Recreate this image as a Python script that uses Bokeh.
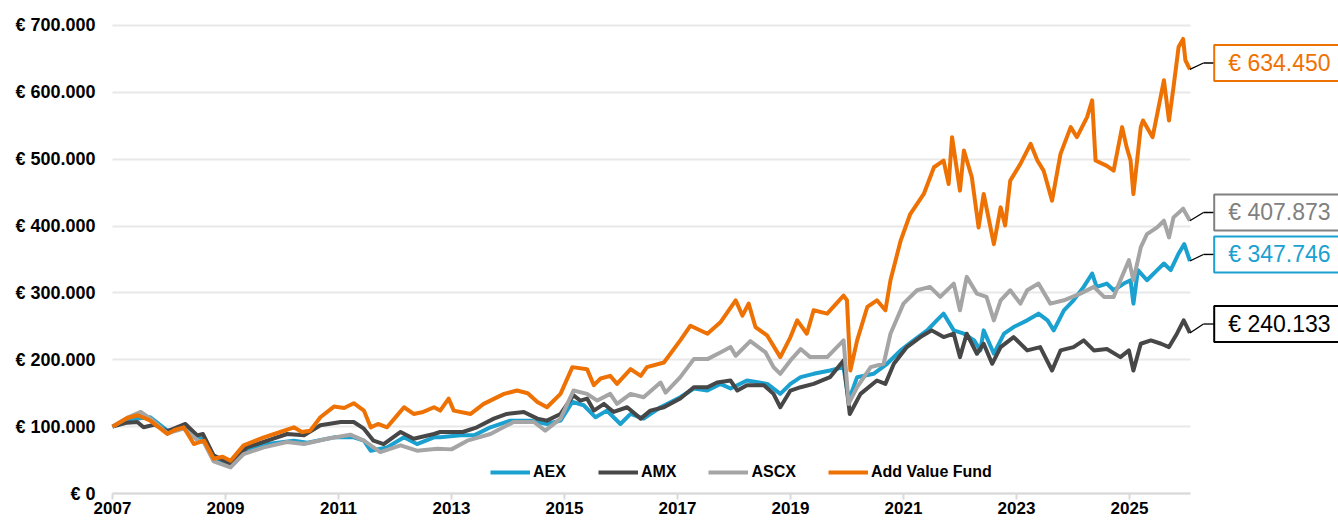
from bokeh.plotting import figure
from bokeh.models import Range1d, FixedTicker, Label, Arrow
from bokeh.embed import file_html
from bokeh.resources import INLINE

# ---------------- data (values in thousands of euro) ----------------
series_names = ["AEX", "AMX", "ASCX", "Add Value Fund"]

t_aex = [2007.0, 2007.26, 2007.45, 2007.67, 2007.97, 2008.26, 2008.5, 2008.62, 2008.79, 2009.09,
         2009.38, 2009.74, 2010.21, 2010.45, 2010.92, 2011.27, 2011.45, 2011.57, 2011.86, 2012.16,
         2012.39, 2012.69, 2012.8, 2013.16, 2013.4, 2013.69, 2014.04, 2014.4, 2014.69, 2014.93,
         2015.14, 2015.34, 2015.55, 2015.75, 2015.99, 2016.17, 2016.4, 2016.7, 2017.05, 2017.29,
         2017.53, 2017.76, 2017.94, 2018.23, 2018.59, 2018.82, 2019.0, 2019.18, 2019.41, 2019.7,
         2019.94, 2020.03, 2020.18, 2020.47, 2020.71, 2020.95, 2021.18, 2021.42, 2021.59, 2021.71,
         2021.89, 2022.07, 2022.25, 2022.36, 2022.42, 2022.6, 2022.78, 2022.95, 2023.19, 2023.39,
         2023.55, 2023.66, 2023.84, 2024.01, 2024.19, 2024.34, 2024.42, 2024.6, 2024.72, 2024.9,
         2025.02, 2025.07, 2025.15, 2025.31, 2025.49, 2025.61, 2025.73, 2025.87, 2025.97, 2026.07]
v_aex = [100, 111, 112, 114, 94, 99, 84, 80, 54, 44,
         64, 74, 79, 76, 84, 84, 79, 64, 69, 84,
         74, 84, 84, 87, 87, 99, 109, 109, 104, 109,
         137, 132, 114, 124, 104, 119, 112, 129, 144, 157,
         154, 164, 157, 169, 164, 149, 164, 174, 179, 184,
         189, 139, 174, 179, 194, 214, 229, 244, 259, 269,
         244, 239, 229, 214, 244, 209, 239, 249, 259, 269,
         259, 244, 274, 289, 309, 329, 309, 314, 304, 314,
         319, 284, 334, 319, 334, 344, 334, 359, 373, 347.746]

t_amx = [2007.0, 2007.26, 2007.44, 2007.55, 2007.75, 2007.97, 2008.29, 2008.5, 2008.6, 2008.79,
         2009.09, 2009.38, 2009.74, 2010.09, 2010.39, 2010.68, 2011.04, 2011.27, 2011.45, 2011.62,
         2011.8, 2012.1, 2012.33, 2012.69, 2012.8, 2013.2, 2013.45, 2013.75, 2013.98, 2014.28,
         2014.52, 2014.69, 2014.93, 2015.16, 2015.28, 2015.4, 2015.52, 2015.7, 2015.87, 2016.11,
         2016.35, 2016.52, 2016.76, 2017.05, 2017.29, 2017.53, 2017.7, 2017.94, 2018.06, 2018.23,
         2018.53, 2018.7, 2018.82, 2019.0, 2019.18, 2019.41, 2019.7, 2019.94, 2020.05, 2020.24,
         2020.53, 2020.68, 2020.83, 2021.06, 2021.3, 2021.5, 2021.71, 2021.89, 2022.0, 2022.12,
         2022.3, 2022.42, 2022.57, 2022.72, 2022.95, 2023.19, 2023.42, 2023.63, 2023.78, 2024.01,
         2024.19, 2024.37, 2024.6, 2024.84, 2024.99, 2025.07, 2025.2, 2025.38, 2025.56, 2025.7,
         2025.84, 2025.96, 2026.07]
v_amx = [100, 106, 107, 99, 103, 93, 104, 87, 89, 57,
         44, 69, 79, 89, 87, 102, 107, 107, 97, 79,
         74, 92, 82, 89, 92, 92, 99, 112, 119, 122,
         112, 109, 119, 147, 139, 142, 124, 134, 122, 129,
         112, 124, 129, 142, 159, 159, 166, 169, 154, 162,
         162, 149, 129, 154, 159, 164, 174, 199, 119, 149,
         169, 164, 194, 219, 234, 244, 234, 239, 204, 239,
         209, 224, 194, 219, 234, 214, 219, 184, 214, 219,
         229, 214, 216, 204, 214, 184, 224, 229, 224, 219,
         239, 259, 240.133]

t_ascx = [2007.0, 2007.26, 2007.5, 2007.67, 2007.97, 2008.26, 2008.5, 2008.62, 2008.79, 2009.09,
          2009.32, 2009.68, 2010.09, 2010.39, 2010.8, 2011.21, 2011.45, 2011.74, 2012.1, 2012.39,
          2012.75, 2013.0, 2013.28, 2013.69, 2014.1, 2014.46, 2014.66, 2014.93, 2015.16, 2015.4,
          2015.58, 2015.81, 2015.93, 2016.17, 2016.4, 2016.7, 2016.79, 2017.05, 2017.29, 2017.53,
          2017.76, 2017.94, 2018.03, 2018.29, 2018.56, 2018.7, 2018.82, 2019.0, 2019.18, 2019.35,
          2019.65, 2019.94, 2020.03, 2020.18, 2020.42, 2020.65, 2020.77, 2021.0, 2021.24, 2021.47,
          2021.65, 2021.89, 2022.0, 2022.12, 2022.3, 2022.47, 2022.6, 2022.72, 2022.89, 2023.07,
          2023.19, 2023.39, 2023.6, 2023.84, 2024.13, 2024.37, 2024.55, 2024.72, 2024.84, 2024.99,
          2025.07, 2025.2, 2025.31, 2025.49, 2025.61, 2025.7, 2025.78, 2025.95, 2026.07]
v_ascx = [100, 113, 122, 112, 90, 97, 80, 76, 48, 39,
          59, 69, 77, 74, 82, 88, 79, 62, 72, 64,
          67, 66, 79, 89, 107, 107, 94, 112, 154, 149,
          139, 149, 134, 149, 144, 166, 151, 174, 201, 201,
          211, 219, 206, 228, 211, 189, 179, 199, 216, 204,
          204, 229, 134, 159, 189, 194, 239, 284, 304, 309,
          294, 314, 274, 324, 299, 294, 259, 289, 304, 284,
          304, 314, 284, 289, 299, 309, 294, 294, 319, 349,
          319, 368, 388, 398, 408, 383, 413, 426, 407.873]

t_fund = [2007.0, 2007.26, 2007.45, 2007.67, 2007.97, 2008.1, 2008.26, 2008.44, 2008.62, 2008.79,
          2008.95, 2009.09, 2009.32, 2009.5, 2009.68, 2009.97, 2010.21, 2010.35, 2010.5, 2010.68,
          2010.92, 2011.1, 2011.27, 2011.45, 2011.57, 2011.7, 2011.86, 2012.05, 2012.16, 2012.33,
          2012.5, 2012.69, 2012.8, 2012.95, 2013.04, 2013.34, 2013.57, 2013.93, 2014.16, 2014.35,
          2014.52, 2014.69, 2014.93, 2015.14, 2015.4, 2015.52, 2015.64, 2015.81, 2015.93, 2016.17,
          2016.35, 2016.46, 2016.76, 2017.05, 2017.23, 2017.53, 2017.76, 2018.03, 2018.15, 2018.26,
          2018.38, 2018.59, 2018.82, 2019.0, 2019.12, 2019.29, 2019.41, 2019.65, 2019.94, 2020.0,
          2020.06, 2020.18, 2020.36, 2020.53, 2020.68, 2020.77, 2020.95, 2021.12, 2021.36, 2021.54,
          2021.71, 2021.8, 2021.86, 2022.0, 2022.07, 2022.21, 2022.33, 2022.42, 2022.6, 2022.72,
          2022.8, 2022.89, 2023.07, 2023.25, 2023.37, 2023.48, 2023.63, 2023.78, 2023.96, 2024.07,
          2024.25, 2024.34, 2024.4, 2024.6, 2024.72, 2024.87, 2024.95, 2025.02, 2025.07, 2025.2,
          2025.24, 2025.41, 2025.61, 2025.7, 2025.78, 2025.87, 2025.95, 2025.99, 2026.07]
v_fund = [100, 113, 117, 109, 89, 95, 99, 74, 79, 52,
          55, 49, 72, 78, 84, 92, 99, 92, 94, 114,
          130, 128, 135, 124, 99, 104, 99, 118, 129, 119,
          122, 129, 124, 142, 124, 119, 134, 149, 154, 150,
          137, 129, 149, 189, 186, 162, 172, 176, 164, 186,
          176, 189, 196, 229, 251, 239, 256, 289, 266, 284,
          249, 236, 204, 234, 259, 239, 274, 269, 296, 289,
          184, 229, 279, 289, 274, 319, 378, 418, 448, 488,
          498, 463, 533, 453, 513, 473, 398, 448, 373, 428,
          401, 468, 493, 523, 498, 483, 438, 508, 548, 533,
          563, 588, 498, 490, 483, 548, 518, 498, 448, 548,
          558, 533, 618, 558, 608, 668, 680, 648, 634.45]

end_labels = ["€ 347.746", "€ 240.133", "€ 407.873", "€ 634.450"]

y_ticks = [0, 100000, 200000, 300000, 400000, 500000, 600000, 700000]
y_tick_labels = ["€ 0", "€ 100.000", "€ 200.000", "€ 300.000", "€ 400.000",
                 "€ 500.000", "€ 600.000", "€ 700.000"]
x_ticks = [2007, 2009, 2011, 2013, 2015, 2017, 2019, 2021, 2023, 2025]

# ---------------- styles / layout ----------------
colors = ["#1BA1D0", "#474747", "#A5A5A5", "#EE7203"]
label_text_colors = ["#1BA1D0", "#000000", "#808080", "#EE7203"]
label_box_colors = ["#1BA1D0", "#000000", "#808080", "#EE7203"]
label_box_y = [357500, 253500, 420300, 643900]   # vertical centre of each end box
FONT = "Liberation Sans"
X_START, X_END_DATA = 2007, 2026.08
# the frame covers the whole canvas; axes are pinned at 2007 / 0
X_VIEW = (2005.018, 2028.70)
Y_VIEW = (-41880, 737393)
x_elbow = 2026.31
x_box = 2026.50

p = figure(width=1338, height=521, output_backend="svg", toolbar_location=None,
           x_range=Range1d(*X_VIEW), y_range=Range1d(*Y_VIEW),
           min_border_left=0, min_border_right=0, min_border_top=0,
           min_border_bottom=0)
p.outline_line_color = None
p.border_fill_color = "white"

# grid
p.xgrid.grid_line_color = None
yg = p.ygrid[0]
yg.ticker = FixedTicker(ticks=y_ticks)
yg.grid_line_color = "#E8E8E8"
yg.grid_line_width = 2
if "cross_bounds" in yg.properties():
    yg.cross_bounds = (X_START, X_END_DATA)
else:
    yg.grid_line_color = None
    n = len(y_ticks)
    p.segment([X_START] * n, y_ticks, [X_END_DATA] * n, y_ticks,
              line_color="#E8E8E8", line_width=2)

# y axis, pinned at the first year
ya = p.yaxis[0]
ya.fixed_location = X_START
ya.ticker = FixedTicker(ticks=y_ticks)
ya.major_label_overrides = dict(zip(y_ticks, y_tick_labels))
ya.axis_line_color = None
ya.major_tick_line_color = None
ya.minor_tick_line_color = None
ya.major_tick_in = 0
ya.major_tick_out = 0
ya.major_label_standoff = 17
ya.major_label_text_font = FONT
ya.major_label_text_font_style = "bold"
ya.major_label_text_font_size = "18px"
ya.major_label_text_color = "#000000"

# x axis, pinned to the zero line
xa = p.xaxis[0]
xa.fixed_location = 0
xa.bounds = (X_START, X_END_DATA)
xa.ticker = FixedTicker(ticks=x_ticks)
xa.axis_line_color = "#D9D9D9"
xa.axis_line_width = 2
xa.major_tick_line_color = "#D9D9D9"
xa.major_tick_line_width = 2
xa.major_tick_in = 0
xa.major_tick_out = 6
xa.minor_tick_line_color = None
xa.major_label_standoff = 2
xa.major_label_text_font = FONT
xa.major_label_text_font_style = "bold"
xa.major_label_text_font_size = "17px"
xa.major_label_text_color = "#000000"

ts = [t_aex, t_amx, t_ascx, t_fund]
vs = [v_aex, v_amx, v_ascx, v_fund]
for name, t, v, c in zip(series_names, ts, vs, colors):
    p.line(t, [x * 1000 for x in v], line_color=c, line_width=4,
           line_join="round", legend_label=name)

lg = p.legend[0]
lg.orientation = "horizontal"
lg.location = (490, 39)
lg.background_fill_alpha = 0
lg.border_line_color = None
lg.padding = 0
lg.margin = 0
lg.spacing = 32
lg.label_standoff = 3
lg.glyph_width = 40
lg.glyph_height = 20
lg.label_height = 20
lg.label_text_font = FONT
lg.label_text_font_style = "bold"
lg.label_text_font_size = "16px"
lg.label_text_color = "#000000"

# end-value boxes with callouts
for t, v, txt, tc, bc, by in zip(ts, vs, end_labels, label_text_colors, label_box_colors, label_box_y):
    p.add_layout(Arrow(end=None, x_start=t[-1], y_start=v[-1] * 1000,
                       x_end=x_elbow, y_end=by, line_color="#000000", line_width=1.3))
    p.add_layout(Arrow(end=None, x_start=x_elbow, y_start=by,
                       x_end=x_box, y_end=by, line_color="#000000", line_width=1.3))
    p.add_layout(Label(x=x_box, y=by, text=txt, text_font=FONT, text_font_size="23px",
                       text_color=tc, text_align="left", text_baseline="middle",
                       border_line_color=bc, border_line_width=2,
                       background_fill_color="white",
                       padding=dict(left=14, right=14, top=5, bottom=5)))

open("out.html", "w").write(file_html(p, INLINE))
